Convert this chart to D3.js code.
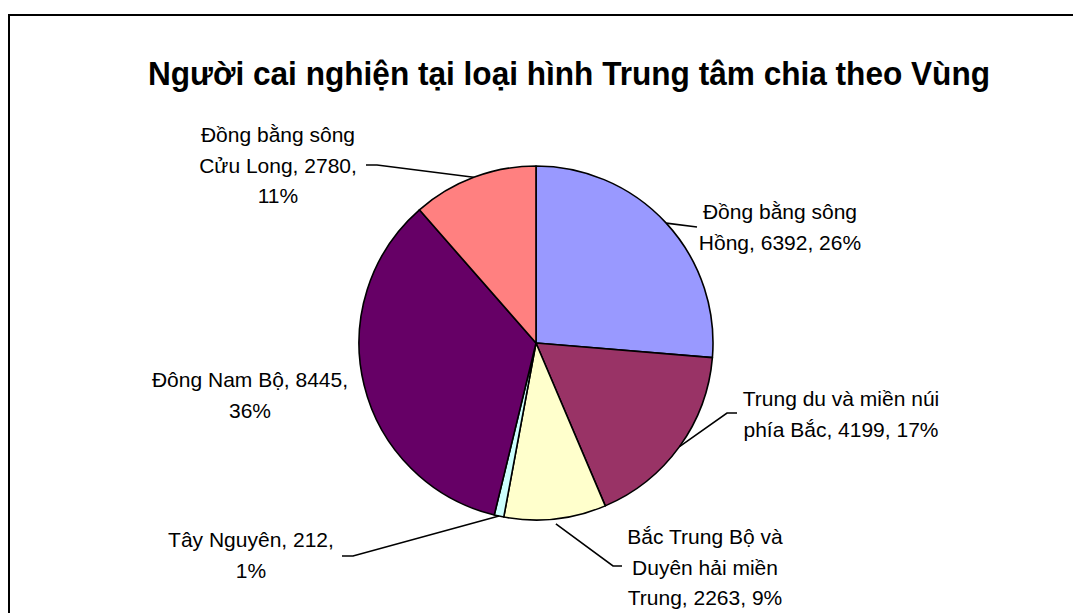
<!DOCTYPE html>
<html>
<head>
<meta charset="utf-8">
<script src="https://cdn.jsdelivr.net/npm/d3@7"></script>
<style>
  html, body { margin: 0; padding: 0; background: #fff; }
  svg { display: block; }
  text { font-family: "Liberation Sans", Arial, sans-serif; fill: #000; }
</style>
</head>
<body>
<svg id="chart" width="1073" height="613"></svg>
<script>
// ---- data ----
const title = "Người cai nghiện tại loại hình Trung tâm chia theo Vùng";
const regions = [
  "Đồng bằng sông Hồng",
  "Trung du và miền núi phía Bắc",
  "Bắc Trung Bộ và Duyên hải miền Trung",
  "Tây Nguyên",
  "Đông Nam Bộ",
  "Đồng bằng sông Cửu Long"
];
const values = [6392, 4199, 2263, 212, 8445, 2780];
const percentLabels = ["26%", "17%", "9%", "1%", "36%", "11%"];
const labelLines = [
  ["Đồng bằng sông", "Hồng, 6392, 26%"],
  ["Trung du và miền núi", "phía Bắc, 4199, 17%"],
  ["Bắc Trung Bộ và", "Duyên hải miền", "Trung, 2263, 9%"],
  ["Tây Nguyên, 212,", "1%"],
  ["Đông Nam Bộ, 8445,", "36%"],
  ["Đồng bằng sông", "Cửu Long, 2780,", "11%"]
];
const colors = ["#9999FF", "#993366", "#FFFFCC", "#CCFFFF", "#660066", "#FF8080"];

// ---- layout (positions only) ----
const cx = 536, cy = 343, R = 177;
const labelLayout = [
  { x: 780, y: 219, leader: [[697, 227]], gap: 0 },
  { x: 841, y: 406, leader: [[727, 413], [737, 413]], gap: 0 },
  { x: 705, y: 544, leader: [[613, 566], [622, 566]], gap: 5 },
  { x: 251, y: 547, leader: [[353, 556], [342, 556]], gap: 0 },
  { x: 250, y: 387, leader: null, gap: 0 },
  { x: 278, y: 142, leader: [[377, 165], [366, 165]], gap: 0 }
];
const lineHeight = 30.5;

const svg = d3.select("#chart");

// frame
svg.append("rect")
  .attr("x", 9).attr("y", 15)
  .attr("width", 1200).attr("height", 800)
  .attr("fill", "none").attr("stroke", "#000").attr("stroke-width", 2);

// title
svg.append("text")
  .attr("x", 569).attr("y", 85)
  .attr("text-anchor", "middle")
  .attr("font-size", 33).attr("font-weight", "bold")
  .attr("textLength", 842)
  .attr("lengthAdjust", "spacingAndGlyphs")
  .text(title);

const pie = d3.pie().sort(null).value(d => d).startAngle(0).endAngle(2 * Math.PI);
const arcs = pie(values);
const arc = d3.arc().innerRadius(0).outerRadius(R);

const g = svg.append("g").attr("transform", `translate(${cx},${cy})`);
g.selectAll("path.slice")
  .data(arcs)
  .enter().append("path")
  .attr("class", "slice")
  .attr("d", arc)
  .attr("fill", (d, i) => colors[i])
  .attr("stroke", "#000")
  .attr("stroke-width", 1.6)
  .attr("stroke-linejoin", "round");

// leaders
arcs.forEach((a, i) => {
  const L = labelLayout[i];
  if (!L.leader) return;
  const mid = (a.startAngle + a.endAngle) / 2;
  const rr = R + L.gap;
  const p0 = [cx + rr * Math.sin(mid), cy - rr * Math.cos(mid)];
  const pts = [p0].concat(L.leader);
  svg.append("path")
    .attr("d", d3.line()(pts))
    .attr("fill", "none")
    .attr("stroke", "#000")
    .attr("stroke-width", 1.6);
});

// labels
labelLines.forEach((lines, i) => {
  const L = labelLayout[i];
  const t = svg.append("text")
    .attr("text-anchor", "middle")
    .attr("font-size", 21);
  lines.forEach((ln, j) => {
    t.append("tspan")
      .attr("x", L.x)
      .attr("y", L.y + j * lineHeight)
      .text(ln);
  });
});
</script>
</body>
</html>
